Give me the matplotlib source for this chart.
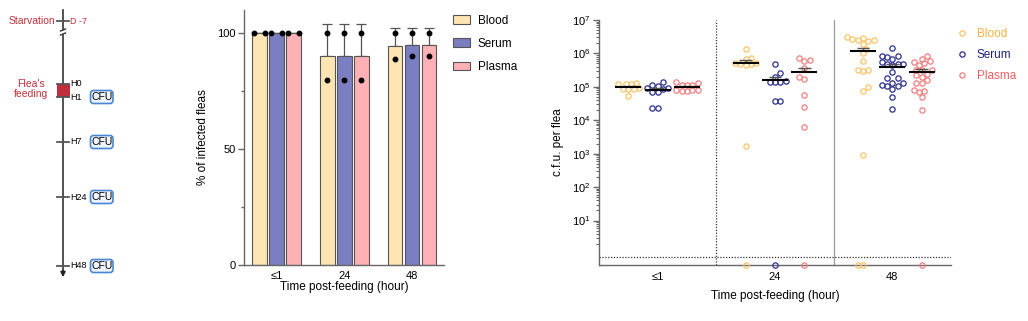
import numpy as np
import matplotlib
matplotlib.use("Agg")
import matplotlib.pyplot as plt
from matplotlib.patches import Rectangle, FancyBboxPatch
from matplotlib.lines import Line2D
from matplotlib.ticker import FixedLocator, NullFormatter

plt.rcParams["font.family"] = ["Liberation Sans", "DejaVu Sans"]
plt.rcParams["mathtext.default"] = "regular"

groups = ["≤1", "24", "48"]
fluids = ["Blood", "Serum", "Plasma"]

# % of infected fleas, two independent experiments per time point
pct_blood = [[100, 100], [100, 80], [100, 88.9]]
pct_serum = [[100, 100], [100, 80], [100, 90]]
pct_plasma = [[100, 100], [100, 80], [100, 90]]

# c.f.u. per flea, one value per flea (0 = below detection)
cfu_blood_h1 = [130000, 125000, 120000, 118000, 90000, 88000, 86000, 85000, 52000]
cfu_serum_h1 = [135000, 112000, 108000, 92000, 90000, 88000, 72000, 70000, 23000, 24000]
cfu_plasma_h1 = [140000, 130000, 115000, 112000, 110000, 82000, 80000, 79000, 77000, 74000]

cfu_blood_h24 = [1350000, 750000, 700000, 520000, 500000, 480000, 470000, 460000, 1700, 0]
cfu_serum_h24 = [490000, 260000, 195000, 145000, 140000, 138000, 135000, 39000, 38000, 0]
cfu_plasma_h24 = [710000, 630000, 590000, 355000, 195000, 166000, 59000, 25000, 6300, 0]

cfu_blood_h48 = [3100000, 2950000, 2630000, 2450000, 2450000, 2340000, 1950000, 1380000,
                 1000000, 590000, 330000, 310000, 295000, 100000, 74000, 890, 0, 0]
cfu_serum_h48 = [1480000, 830000, 830000, 790000, 690000, 550000, 490000, 490000, 490000,
                 450000, 280000, 178000, 178000, 132000, 132000, 110000, 105000, 105000,
                 87000, 49000, 22000]
cfu_plasma_h48 = [830000, 690000, 590000, 550000, 500000, 450000, 330000, 320000, 320000,
                  250000, 220000, 200000, 158000, 132000, 132000, 83000, 74000, 69000,
                  50000, 21000, 0]

detection_limit = 0.8

cfu = {
    "Blood": [cfu_blood_h1, cfu_blood_h24, cfu_blood_h48],
    "Serum": [cfu_serum_h1, cfu_serum_h24, cfu_serum_h48],
    "Plasma": [cfu_plasma_h1, cfu_plasma_h24, cfu_plasma_h48],
}
pct = {"Blood": pct_blood, "Serum": pct_serum, "Plasma": pct_plasma}

bar_colors = {"Blood": "#FDE4B3", "Serum": "#7B7EC1", "Plasma": "#FFB1B5"}
dot_colors = {"Blood": "#FBC467", "Serum": "#2B2F8F", "Plasma": "#F47F7F"}
text_colors = {"Blood": "#F7B13F", "Serum": "#1C2280", "Plasma": "#F25E5E"}
spine_col = "#666666"

W, H = 1028, 321
fig = plt.figure(figsize=(W / 100, H / 100), dpi=100)
fig.patch.set_facecolor("white")


def swarm(yp, d):
    """greedy beeswarm offsets (pixels) for points at pixel heights yp"""
    xs = np.zeros(len(yp))
    placed = []
    for n, i in enumerate(np.argsort(yp)):
        best = None
        for k in range(60):
            sign = 1 if n % 2 == 0 else -1
            cands = [0.0] if k == 0 else [sign * k * d / 2, -sign * k * d / 2]
            for c in cands:
                if all((c - px) ** 2 + (yp[i] - py) ** 2 >= 0.95 * d * d for px, py in placed):
                    best = c
                    break
            if best is not None:
                break
        xs[i] = best
        placed.append((best, yp[i]))
    return xs


# ---------------- timeline schematic ----------------
axA = fig.add_axes([0, 0, 160 / W, 1])
axA.set_xlim(0, 160)
axA.set_ylim(H, 0)
axA.axis("off")
x0 = 63
red = "#C0303C"
axA.plot([x0, x0], [10, 29], color="#333333", lw=1.2)
axA.plot([x0, x0], [35, 272], color="#333333", lw=1.2)
axA.annotate("", xy=(x0, 280), xytext=(x0, 268),
             arrowprops=dict(arrowstyle="-|>", color="#222222", lw=1.2, mutation_scale=7))
# axis break
axA.plot([x0 - 2.5, x0 + 2.5], [31, 29], color="#333333", lw=1.0)
axA.plot([x0 - 2.5, x0 + 2.5], [35, 33], color="#333333", lw=1.0)

axA.add_patch(Rectangle((57, 84), 13, 13, facecolor=red, edgecolor="none", zorder=3))
ticks_y = {"D -7": 21, "H0": 84, "H1": 97, "H7": 142, "H24": 197, "H48": 266}
for lab, yy in ticks_y.items():
    axA.plot([x0 - 6, x0 + 6], [yy, yy], color="#555555", lw=1.3, zorder=4)
    axA.text(x0 + 7.5, yy, lab, fontsize=6.5, va="center", ha="left",
             color=red if lab.startswith("D") else "black")
axA.text(55, 21, "Starvation", fontsize=7.5, color=red, ha="right", va="center")
axA.text(48, 89, "Flea's\nfeeding", fontsize=7.5, color=red, ha="right", va="center",
         multialignment="center", linespacing=1.1)
for lab in ["H1", "H7", "H24", "H48"]:
    yy = ticks_y[lab]
    axA.add_patch(FancyBboxPatch((90.5, yy - 6.5), 22.5, 13,
                                 boxstyle="round,pad=0,rounding_size=3",
                                 facecolor="#EEF4FC", edgecolor="#4A86D4", lw=1.2))
    axA.text(101.7, yy + 0.3, "CFU", fontsize=7.5, ha="center", va="center")

# ---------------- % infected fleas ----------------
axB = fig.add_axes([244 / W, 56 / H, 200 / W, 255 / H])
xg = np.arange(len(groups))
bw, step = 0.215, 0.25
for i, name in enumerate(fluids):
    reps = np.array(pct[name], dtype=float)
    means = reps.mean(axis=1)
    sds = reps.std(axis=1, ddof=1)
    pos = xg + (i - 1) * step
    axB.bar(pos, means, width=bw, color=bar_colors[name], edgecolor="#555555",
            lw=0.8, label=name, zorder=2)
    axB.errorbar(pos, means, yerr=[np.zeros(len(pos)), sds], fmt="none",
                 ecolor="#555555", elinewidth=0.9, capsize=3.5, capthick=0.9, zorder=1)
    for p, r in zip(pos, reps):
        if np.allclose(r, r[0]):
            offs = np.linspace(-0.35, 0.35, len(r)) * bw
        else:
            offs = np.zeros(len(r))
        axB.plot(p + offs, r, "o", color="black", ms=3.2, zorder=3, clip_on=False)

axB.set_ylim(0, 110)
axB.set_xlim(-0.48, 2.47)
axB.set_yticks([0, 50, 100])
axB.yaxis.set_minor_locator(FixedLocator([25, 75]))
axB.set_xticks(xg)
axB.set_xticklabels(groups)
axB.tick_params(axis="y", which="major", length=4, width=1, color=spine_col, labelsize=8, pad=2)
axB.tick_params(axis="y", which="minor", length=2.5, width=1, color=spine_col)
axB.tick_params(axis="x", length=0, labelsize=8, pad=4)
for s in ["top", "right"]:
    axB.spines[s].set_visible(False)
for s in ["left", "bottom"]:
    axB.spines[s].set_color(spine_col)
    axB.spines[s].set_linewidth(1)
axB.set_ylabel("% of infected fleas", fontsize=8.5, labelpad=6)
axB.set_xlabel("Time post-feeding (hour)", fontsize=8.5, labelpad=0)
axB.legend(loc="upper left", bbox_to_anchor=(1.02, 1.0), frameon=False, fontsize=8.5,
           handlelength=1.5, handleheight=0.75, labelspacing=0.95, borderaxespad=0,
           handletextpad=0.6)

# ---------------- c.f.u. per flea ----------------
axC = fig.add_axes([599 / W, 56 / H, 352 / W, 245 / H])
ymin, ymax = 10 ** -0.33, 1e7
axC.set_yscale("log")
axC.set_ylim(ymin, ymax)
axC.set_xlim(-0.5, 2.5)
px_x = 352 / 3.0
px_dec = 245 / (np.log10(ymax) - np.log10(ymin))

for i, name in enumerate(fluids):
    for g, vals in enumerate(cfu[name]):
        v = np.array(vals, dtype=float)
        shown = np.where(v > 0, v, ymin)
        yp = np.log10(shown) * px_dec
        offs = swarm(yp, 5.4) / px_x
        pos = g + (i - 1) * 0.25
        axC.plot(pos + offs, shown, "o", mfc="none", mec=dot_colors[name], mew=0.9,
                 ms=3.8, ls="none", clip_on=False, zorder=3)
        m = v.mean()
        sem = v.std(ddof=1) / np.sqrt(len(v))
        axC.vlines(pos, m, m + sem, color="#555555", lw=1.0, zorder=4)
        axC.hlines(m + sem, pos - 0.055, pos + 0.055, color="#555555", lw=1.0, zorder=4)
        axC.hlines(m, pos - 0.11, pos + 0.11, color="black", lw=1.5, zorder=5)

axC.axvline(0.5, color="#333333", lw=0.9, ls=(0, (1, 1.3)), zorder=1)
axC.axvline(1.5, color="#999999", lw=0.9, zorder=1)
axC.axhline(detection_limit, color="#333333", lw=0.9, ls=(0, (1, 1.3)), zorder=1)

axC.yaxis.set_major_locator(FixedLocator([10.0 ** k for k in range(1, 8)]))
axC.set_yticklabels([f"$10^{{{k}}}$" for k in range(1, 8)])
axC.yaxis.set_minor_locator(FixedLocator([m * 10.0 ** k for k in range(0, 7) for m in range(2, 10)]))
axC.yaxis.set_minor_formatter(NullFormatter())
axC.set_xticks(xg)
axC.set_xticklabels(groups)
axC.tick_params(axis="y", which="major", length=4, width=1, color=spine_col, labelsize=8, pad=2)
axC.tick_params(axis="y", which="minor", length=2, width=0.8, color=spine_col)
axC.tick_params(axis="x", length=0, labelsize=8, pad=5)
for s in ["top", "right"]:
    axC.spines[s].set_visible(False)
for s in ["left", "bottom"]:
    axC.spines[s].set_color(spine_col)
    axC.spines[s].set_linewidth(1)
axC.set_ylabel("c.f.u. per flea", fontsize=8.5, labelpad=6)
axC.set_xlabel("Time post-feeding (hour)", fontsize=8.5, labelpad=6)

handles = [Line2D([], [], marker="o", ls="none", mfc="none", mec=dot_colors[n], mew=0.9, ms=3.8)
           for n in fluids]
axC.legend(handles, fluids, loc="upper left", bbox_to_anchor=(1.0, 0.985), frameon=False,
           fontsize=8.5, labelspacing=0.75, handlelength=1.0, handletextpad=0.8,
           borderaxespad=0, labelcolor=[text_colors[n] for n in fluids])

fig.savefig("out.png", dpi=100, facecolor="white")
